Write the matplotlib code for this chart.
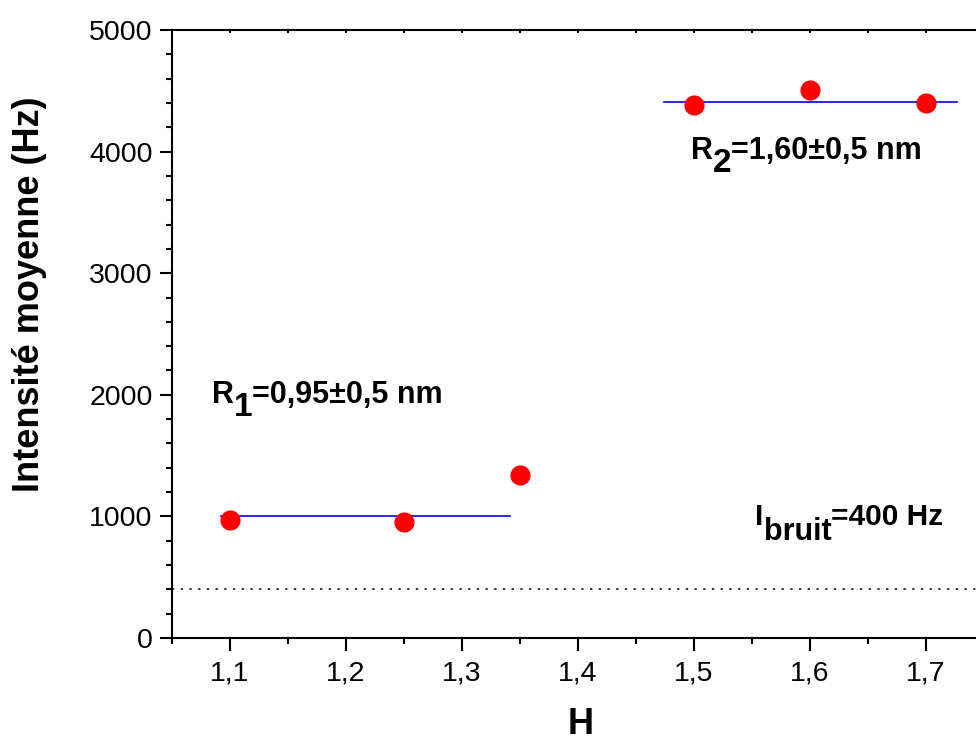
import matplotlib
matplotlib.use("Agg")
import matplotlib.pyplot as plt
from matplotlib.ticker import MultipleLocator, FuncFormatter

plt.rcParams['font.family'] = ['Liberation Sans', 'DejaVu Sans']

# data
H_values = [1.10, 1.25, 1.35, 1.50, 1.60, 1.70]
intensity = [970, 955, 1340, 4380, 4510, 4400]
fit1_x = [1.092, 1.341]
fit1_y = [1003, 1003]
fit2_x = [1.474, 1.727]
fit2_y = [4410, 4410]
noise_level = 400

fig = plt.figure(figsize=(9.76, 7.4), dpi=100)
ax = fig.add_axes([172/976, 102/740, 812/976, 608/740])

ax.axhline(noise_level, color='black', lw=1.1, linestyle=(0, (1.5, 4.2)), zorder=1)
ax.plot(fit1_x, fit1_y, color='#0000ff', lw=1.2, zorder=2)
ax.plot(fit2_x, fit2_y, color='#0000ff', lw=1.2, zorder=2)
ax.plot(H_values, intensity, 'o', color='#ff0000', markersize=14.5, markeredgewidth=0, zorder=3)

ax.set_xlim(1.05, 1.75)
ax.set_ylim(0, 5000)
ax.xaxis.set_major_locator(MultipleLocator(0.1))
ax.xaxis.set_minor_locator(MultipleLocator(0.05))
ax.yaxis.set_major_locator(MultipleLocator(1000))
ax.yaxis.set_minor_locator(MultipleLocator(200))
ax.xaxis.set_major_formatter(FuncFormatter(lambda v, p: f"{v:.1f}".replace('.', ',')))
ax.yaxis.set_major_formatter(FuncFormatter(lambda v, p: f"{int(round(v))}"))

for s in ax.spines.values():
    s.set_linewidth(1.5)

ax.tick_params(axis='both', which='major', direction='out', length=9, width=1.5,
               labelsize=20.5, pad=5)
ax.tick_params(axis='both', which='minor', direction='out', length=4.5, width=1.5)
ax.tick_params(axis='x', which='major', pad=7)
ax.tick_params(axis='x', which='both', top=True)
for t in ax.xaxis.get_major_ticks() + ax.xaxis.get_minor_ticks():
    t.tick2line.set_markersize(2.5)
    t.tick2line.set_marker(3)  # inward on top spine

ax.set_xlabel('H', fontsize=26, fontweight='bold')
ax.xaxis.set_label_coords(0.503, -0.113)
ax.set_ylabel('Intensité moyenne (Hz)', fontsize=26, fontweight='bold', va='center')
ax.yaxis.set_label_coords(-0.176, 0.566)

renderer = fig.canvas.get_renderer()


def rich_text(x, y, parts):
    """parts: list of (string, fontsize, drop_px)"""
    dx, dy = ax.transData.transform((x, y))
    inv = ax.transData.inverted()
    for s, size, drop in parts:
        px, py = inv.transform((dx, dy - drop))
        t = ax.text(px, py, s, fontsize=size, fontweight='bold', va='baseline', ha='left')
        bb = t.get_window_extent(renderer)
        dx = bb.x1


rich_text(1.497, 3939, [('R', 22, 0), ('2', 24, 13), ('=1,60±0,5 nm', 22, 0)])
rich_text(1.0845, 1932, [('R', 22, 0), ('1', 24, 13), ('=0,95±0,5 nm', 22, 0)])
rich_text(1.553, 929, [('I', 21.5, 0), ('bruit', 22, 15), ('=400 Hz', 21.5, 0)])

fig.savefig('out.png', dpi=100)
